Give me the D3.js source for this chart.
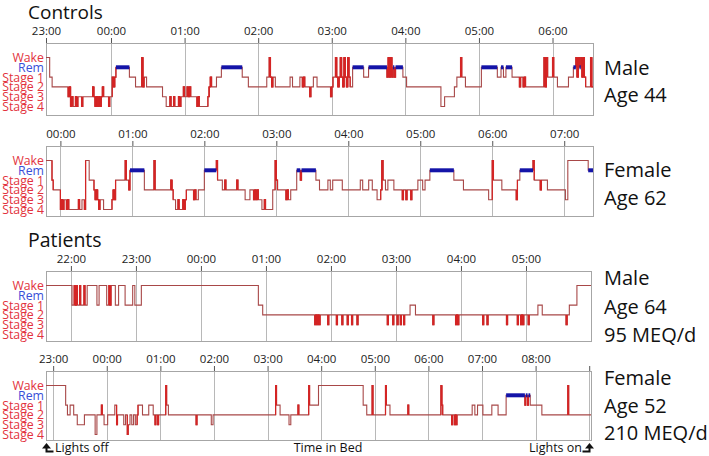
<!DOCTYPE html>
<html><head><meta charset="utf-8">
<script src="https://cdn.jsdelivr.net/npm/d3@7"></script>
<style>
body{margin:0;background:#fff}
svg{display:block;font-family:"Open Sans",sans-serif}
</style></head><body>
<svg id="chart" width="709" height="456"></svg>
<script>
// ---------- data ----------
const stages = ["Wake","Rem","Stage 1","Stage 2","Stage 3","Stage 4"];
const stageColors = ["#e2323c","#3a4fd8","#e2323c","#e2323c","#e2323c","#e2323c"];
const groupTitles = ["Controls","Patients"];

// hypnograms: [clock time of stage change, stage index]
const controlMale44 = [["23:07",0],["23:10",2],["23:12",3],["23:25",4],["23:26",3],["23:27",5],["23:28",4],["23:29",5],["23:31",4],["23:32",5],["23:33",4],["23:36",5],["23:37",4],["23:45",3],["23:46",4],["23:47",5],["23:48",4],["23:49",5],["23:50",4],["23:51",5],["23:52",4],["23:53",3],["23:54",4],["23:58",5],["23:59",4],["00:01",2],["00:02",3],["00:03",2],["00:04",1],["00:15",2],["00:20",3],["00:25",0],["00:26",3],["00:27",2],["00:29",3],["00:42",4],["00:45",5],["00:48",4],["00:49",5],["00:51",4],["00:52",5],["00:55",4],["00:56",5],["00:57",4],["00:59",3],["01:00",4],["01:02",3],["01:03",4],["01:04",3],["01:05",4],["01:10",5],["01:11",4],["01:12",5],["01:19",4],["01:20",3],["01:21",2],["01:22",3],["01:26",2],["01:30",1],["01:47",2],["01:52",3],["02:07",2],["02:09",0],["02:10",2],["02:11",3],["02:12",2],["02:14",3],["02:26",2],["02:28",3],["02:34",2],["02:36",3],["02:37",2],["02:38",3],["02:42",4],["02:43",3],["02:45",2],["02:48",3],["02:59",4],["03:00",3],["03:01",2],["03:03",0],["03:04",2],["03:05",3],["03:06",2],["03:07",0],["03:08",2],["03:09",3],["03:10",0],["03:11",2],["03:12",3],["03:13",0],["03:14",2],["03:15",3],["03:17",1],["03:26",2],["03:30",1],["03:45",2],["03:46",0],["03:47",2],["03:48",0],["03:49",2],["03:50",1],["03:51",2],["03:52",1],["03:58",2],["04:01",3],["04:29",5],["04:32",4],["04:40",3],["04:42",2],["04:45",0],["04:46",2],["04:49",3],["05:02",1],["05:15",2],["05:18",1],["05:20",2],["05:22",1],["05:27",2],["05:33",3],["05:34",2],["05:36",3],["05:37",2],["05:38",3],["05:53",0],["05:54",3],["05:55",0],["05:56",2],["06:00",0],["06:01",2],["06:04",3],["06:13",2],["06:17",1],["06:19",0],["06:20",2],["06:21",0],["06:22",1],["06:23",0],["06:24",2],["06:25",0],["06:26",2],["06:27",3],["06:31",0],["06:32",3],["06:33",3]];
const controlFemale62 = [["23:48",0],["23:53",2],["23:54",3],["00:00",5],["00:01",4],["00:02",5],["00:03",4],["00:05",5],["00:06",4],["00:07",5],["00:15",4],["00:16",5],["00:18",4],["00:20",5],["00:21",0],["00:24",2],["00:28",3],["00:29",4],["00:30",3],["00:31",4],["00:32",5],["00:33",4],["00:36",5],["00:43",4],["00:44",3],["00:45",4],["00:46",2],["00:54",0],["00:55",2],["00:57",3],["00:58",1],["01:10",3],["01:18",0],["01:19",3],["01:32",2],["01:33",3],["01:34",4],["01:36",5],["01:38",4],["01:39",5],["01:42",4],["01:43",5],["01:44",4],["01:45",3],["01:51",4],["01:52",3],["01:53",4],["01:55",3],["02:00",1],["02:10",0],["02:11",2],["02:15",3],["02:17",2],["02:18",3],["02:27",2],["02:28",3],["02:34",4],["02:38",3],["02:41",4],["02:42",3],["02:43",4],["02:44",3],["02:45",4],["02:48",5],["02:50",4],["02:51",5],["02:57",3],["02:59",0],["03:00",2],["03:01",3],["03:08",4],["03:09",3],["03:10",4],["03:12",3],["03:17",1],["03:20",2],["03:21",1],["03:33",2],["03:36",3],["03:43",2],["03:45",3],["03:47",2],["03:55",3],["04:10",2],["04:12",3],["04:17",2],["04:20",3],["04:24",4],["04:27",3],["04:28",0],["04:29",2],["04:31",3],["04:33",2],["04:38",3],["04:45",4],["04:46",3],["04:48",4],["04:49",3],["04:52",4],["04:53",3],["04:58",2],["05:02",3],["05:04",2],["05:08",1],["05:28",2],["05:36",3],["05:57",4],["06:00",0],["06:01",2],["06:08",3],["06:20",4],["06:21",2],["06:23",1],["06:34",0],["06:35",2],["06:40",3],["06:41",2],["06:46",3],["07:01",4],["07:03",0],["07:20",1],["07:24",1]];
const patientMale64 = [["21:37",0],["22:01",2],["22:03",0],["22:04",2],["22:05",0],["22:06",2],["22:08",0],["22:09",2],["22:12",0],["22:13",2],["22:15",0],["22:24",2],["22:26",0],["22:33",2],["22:35",0],["22:36",2],["22:37",0],["22:41",2],["22:44",0],["22:50",2],["22:57",0],["22:59",2],["23:05",0],["00:53",2],["00:57",3],["01:45",4],["01:46",3],["01:47",4],["01:48",3],["01:49",4],["01:50",3],["01:57",4],["01:58",3],["02:05",4],["02:06",3],["02:10",4],["02:11",3],["02:15",4],["02:16",3],["02:19",4],["02:20",3],["02:24",4],["02:25",3],["02:52",4],["02:53",3],["02:57",4],["02:58",3],["03:01",4],["03:02",3],["03:04",4],["03:05",3],["03:07",4],["03:08",3],["03:13",2],["03:18",3],["03:34",4],["03:35",3],["03:55",4],["03:56",3],["03:57",4],["03:58",3],["04:20",4],["04:21",3],["04:24",4],["04:25",3],["04:42",4],["04:43",3],["04:52",4],["04:53",3],["04:55",4],["04:56",3],["04:57",4],["04:58",3],["05:02",4],["05:03",3],["05:11",2],["05:15",3],["05:37",4],["05:38",3],["05:40",2],["05:47",0],["06:00",0]];
const patientFemale52 = [["22:52",0],["23:14",2],["23:16",3],["23:19",2],["23:23",3],["23:27",4],["23:35",3],["23:47",5],["23:49",3],["23:54",2],["23:55",3],["23:57",4],["00:01",3],["00:09",2],["00:11",4],["00:12",3],["00:19",4],["00:21",3],["00:23",5],["00:24",4],["00:26",3],["00:28",4],["00:30",3],["00:32",4],["00:34",3],["00:35",2],["00:40",3],["00:47",2],["00:52",3],["00:54",4],["00:55",3],["00:57",4],["00:58",3],["01:06",0],["01:07",2],["01:09",3],["01:40",4],["01:41",3],["01:57",4],["01:59",3],["03:09",0],["03:10",2],["03:14",3],["03:24",4],["03:26",3],["03:34",2],["03:35",3],["03:46",0],["03:47",2],["03:57",0],["04:47",2],["04:51",3],["04:57",0],["04:58",3],["05:12",0],["05:13",2],["05:17",3],["05:37",2],["05:38",3],["06:14",0],["06:15",2],["06:16",3],["06:26",4],["06:27",3],["06:29",4],["06:30",3],["06:31",4],["06:32",3],["06:49",2],["06:52",3],["06:55",2],["07:01",3],["07:11",2],["07:18",3],["07:27",1],["07:48",2],["07:49",1],["07:51",2],["07:52",1],["07:54",2],["08:07",3],["08:36",0],["08:37",3],["09:02",3]];

// tick labels per panel
const ticksControlMale44 = ["23:00","00:00","01:00","02:00","03:00","04:00","05:00","06:00"];
const ticksControlFemale62 = ["00:00","01:00","02:00","03:00","04:00","05:00","06:00","07:00"];
const ticksPatientMale64 = ["22:00","23:00","00:00","01:00","02:00","03:00","04:00","05:00"];
const ticksPatientFemale52 = ["23:00","00:00","01:00","02:00","03:00","04:00","05:00","06:00","07:00","08:00","09:00"];

// subject descriptions
const subjectControlMale44 = ["Male","Age 44"];
const subjectControlFemale62 = ["Female","Age 62"];
const subjectPatientMale64 = ["Male","Age 64","95 MEQ/d"];
const subjectPatientFemale52 = ["Female","Age 52","210 MEQ/d"];

const bottomLabels = ["Lights off","Time in Bed","Lights on"];

// ---------- layout ----------
const panels = [
  {data:controlMale44, ticks:ticksControlMale44, subject:subjectControlMale44, top:43, bottom:115, right:593, subjBase:[75,102]},
  {data:controlFemale62, ticks:ticksControlFemale62, subject:subjectControlFemale62, top:146, bottom:216, right:593, subjBase:[177,205]},
  {data:patientMale64, ticks:ticksPatientMale64, subject:subjectPatientMale64, top:271, bottom:341, right:591, subjBase:[285,314,342]},
  {data:patientFemale52, ticks:ticksPatientFemale52, subject:subjectPatientFemale52, top:371, bottom:440, right:591, subjBase:[385,413,440]}
];
const left = 46;

function toDate(s){
  const [h,m] = s.split(":").map(Number);
  return new Date(2020,0,h<12?2:1,h,m);
}

const svg = d3.select("#chart");

// group titles
svg.append("text").attr("x",28).attr("y",19).attr("font-size",19).attr("fill","#111").text(groupTitles[0]);
svg.append("text").attr("x",28).attr("y",247).attr("font-size",19.5).attr("fill","#111").text(groupTitles[1]);

panels.forEach(p=>{
  const pts = p.data.map(d=>({t:toDate(d[0]), s:d[1]}));
  const start = pts[0].t, end = pts[pts.length-1].t;
  const x = d3.scaleTime().domain([start,end]).range([left,p.right]).clamp(true);
  const y = d3.scalePoint().domain(d3.range(stages.length)).range([p.top+14.5,p.top+63.5]);
  const g = svg.append("g");

  const tickDates = p.ticks.map(toDate);
  // gridlines
  g.selectAll("line.grid").data(tickDates.filter(d=>x(d)>left+1 && x(d)<p.right-1)).join("line")
    .attr("x1",d=>Math.round(x(d))+0.5).attr("x2",d=>Math.round(x(d))+0.5)
    .attr("y1",p.top).attr("y2",p.bottom).attr("stroke","#b8b8b8").attr("stroke-width",1);

  // frame
  g.append("rect").attr("x",left+0.5).attr("y",p.top+0.5).attr("width",p.right-left).attr("height",p.bottom-p.top)
    .attr("fill","none").attr("stroke","#a6a6a6");

  // axis on top
  const ax = g.append("g").attr("transform",`translate(0,${p.top})`)
    .call(d3.axisTop(x).tickValues(tickDates).tickSize(5).tickPadding(3)
      .tickFormat((d,i)=> x(d)>p.right-4 ? "" : p.ticks[i]));
  ax.select(".domain").remove();
  ax.selectAll(".tick line").attr("stroke","#555");
  ax.selectAll(".tick text").attr("font-size",11.5).attr("fill","#222").attr("font-family","'Open Sans',sans-serif");

  // stage labels
  g.selectAll("text.stage").data(stages).join("text")
    .attr("x",44).attr("y",(d,i)=>y(i)).attr("dy","0.36em").attr("text-anchor","end")
    .attr("font-size",12.3).attr("fill",(d,i)=>stageColors[i]).text(d=>d);

  // hypnogram
  const line = d3.line().x(d=>x(d.t)).y(d=>y(d.s)).curve(d3.curveStepAfter);
  g.append("path").datum(pts).attr("d",line).attr("fill","none")
    .attr("stroke","#a84848").attr("stroke-width",1.1);
  // short stage excursions highlighted
  const shortSeg = [];
  for(let i=1;i<pts.length-1;i++){
    const dur = (pts[i+1].t-pts[i].t)/60000;
    if(dur<=1.5 && pts[i].s!==1){
      shortSeg.push({x:x(pts[i].t), x2:x(pts[i+1].t), y1:y(pts[i-1].s), y2:y(pts[i].s), y3:y(pts[i+1].s)});
    }
  }
  g.selectAll("path.spike").data(shortSeg).join("path")
    .attr("d",d=>`M${d.x},${d.y1}V${d.y2}H${d.x2}V${d.y3}`)
    .attr("fill","none").attr("stroke","#d42424").attr("stroke-width",1.2);
  // REM bars
  const rem = [];
  for(let i=0;i<pts.length-1;i++) if(pts[i].s===1) rem.push([pts[i].t,pts[i+1].t]);
  g.selectAll("line.rem").data(rem).join("line")
    .attr("x1",d=>x(d[0])).attr("x2",d=>x(d[1])).attr("y1",y(1)).attr("y2",y(1))
    .attr("stroke","#1414a8").attr("stroke-width",4);

  // subject labels
  g.selectAll("text.subj").data(p.subject).join("text")
    .attr("x",604).attr("y",(d,i)=>p.subjBase[i]).attr("font-size",20).attr("fill","#111").text(d=>d);
});

// bottom labels and arrows
const by = 452;
svg.append("text").attr("x",55).attr("y",by).attr("font-size",12.5).attr("fill","#111").text(bottomLabels[0]);
svg.append("text").attr("x",328).attr("y",by).attr("font-size",12.5).attr("fill","#111").attr("text-anchor","middle").text(bottomLabels[1]);
svg.append("text").attr("x",582).attr("y",by).attr("font-size",12.5).attr("fill","#111").attr("text-anchor","end").text(bottomLabels[2]);
svg.append("path").attr("d","M42,448.5L46.5,443L51,448.5Z").attr("fill","#111");
svg.append("path").attr("d","M46.5,448V451.5H53.5").attr("fill","none").attr("stroke","#111").attr("stroke-width",2);
svg.append("path").attr("d","M585,448.5L589.5,443L594,448.5Z").attr("fill","#111");
svg.append("path").attr("d","M589.5,448V451.5H582.5").attr("fill","none").attr("stroke","#111").attr("stroke-width",2);
</script>
</body></html>
